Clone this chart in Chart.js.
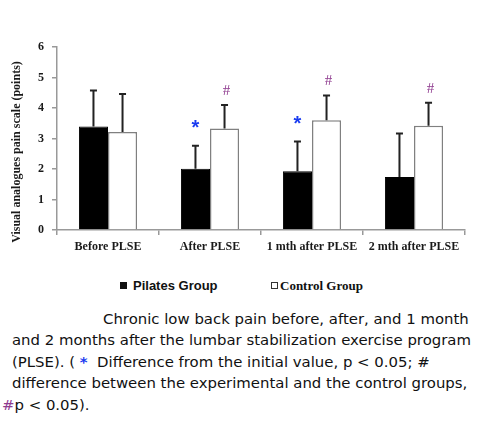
<!DOCTYPE html>
<html>
<head>
<meta charset="utf-8">
<script src="https://cdn.jsdelivr.net/npm/chart.js@4.4.1/dist/chart.umd.min.js"></script>
<style>
  html, body { margin: 0; padding: 0; background: #fff; }
  body { width: 504px; height: 427px; position: relative; overflow: hidden; }
  #wrap { position: absolute; left: 0; top: 0; width: 504px; height: 262px; }
  .legend { position: absolute; top: 277px; font-weight: bold; font-size: 13px; color: #111; line-height: 18px; }
  #leg1 { left: 120px; font-family: "Liberation Sans", Arial, sans-serif; }
  #leg2 { left: 271px; font-family: "Liberation Serif", "Times New Roman", serif; }
  .sq { display: inline-block; width: 7px; height: 7px; vertical-align: 1px; box-sizing: border-box; }
  #leg1 .sq { background: #111; margin-right: 6px; }
  #leg2 .sq { border: 1px solid #333; background: #fff; margin-right: 2px; }
  #caption { position: absolute; left: 12px; top: 309px; width: 470px; font-family: "DejaVu Sans", Verdana, sans-serif;
    font-size: 14.9px; line-height: 21.4px; color: #111; white-space: nowrap; }
  .star { color: #1a3cf0; font-weight: bold; }
  .hash { color: #8e3a8e; }
</style>
</head>
<body>
<div id="wrap"><canvas id="myChart"></canvas></div>
<div class="legend" id="leg1"><span class="sq"></span>Pilates Group</div>
<div class="legend" id="leg2"><span class="sq"></span>Control Group</div>
<div id="caption">
  <div style="padding-left:91px">Chronic low back pain before, after, and 1 month</div>
  <div>and 2 months after the lumbar stabilization exercise program</div>
  <div>(PLSE). ( <span class="star">*</span>&nbsp; Difference from the initial value, p &lt; 0.05; #</div>
  <div>difference between the experimental and the control groups,</div>
  <div style="margin-left:-10px"><span class="hash">#</span>p &lt; 0.05).</div>
</div>
<script>
// data
const categories = ['Before PLSE', 'After PLSE', '1 mth after PLSE', '2 mth after PLSE'];
const pilates = [3.39, 2.01, 1.93, 1.74];
const pilatesSD = [1.18, 0.75, 0.97, 1.42];
const control = [3.21, 3.33, 3.60, 3.42];
const controlSD = [1.25, 0.77, 0.81, 0.75];
const starMarks = [false, true, true, false];   // diff from initial value (pilates)
const hashMarks = [false, true, true, true];    // diff between groups (control)

const serifBold = { family: '"Liberation Serif", "Times New Roman", serif', weight: 'bold', size: 12 };

// error bars + significance marks
const extras = {
  id: 'extras',
  afterDatasetsDraw(chart) {
    const ctx = chart.ctx;
    const y = chart.scales.y;
    const sds = [pilatesSD, controlSD];
    ctx.save();
    chart.data.datasets.forEach((ds, di) => {
      const meta = chart.getDatasetMeta(di);
      meta.data.forEach((bar, i) => {
        const top = y.getPixelForValue(ds.data[i] + sds[di][i]);
        ctx.strokeStyle = '#222';
        ctx.lineWidth = 2;
        ctx.beginPath();
        ctx.moveTo(bar.x, bar.y);
        ctx.lineTo(bar.x, top);
        ctx.moveTo(bar.x - 3.5, top);
        ctx.lineTo(bar.x + 3.5, top);
        ctx.stroke();
        ctx.textAlign = 'center';
        ctx.textBaseline = 'middle';
        if (di === 0 && starMarks[i]) {
          ctx.fillStyle = '#1a3cf0';
          ctx.font = 'bold 20px "Liberation Sans", Arial, sans-serif';
          ctx.fillText('*', bar.x, top - 17);
        }
        if (di === 1 && hashMarks[i]) {
          ctx.fillStyle = '#8e3a8e';
          ctx.font = '15px "Liberation Serif", serif';
          ctx.fillText('#', bar.x + 2, top - 14);
        }
      });
    });
    // y axis title
    ctx.translate(17, 152);
    ctx.rotate(-Math.PI / 2);
    ctx.fillStyle = '#1a1a1a';
    ctx.font = 'bold 12px "Liberation Serif", "Times New Roman", serif';
    ctx.fillText('Visual analogues pain scale (points)', 0, 0);
    ctx.restore();
  }
};

const ctx = document.getElementById('myChart');

new Chart(ctx, {
  type: 'bar',
  data: {
    labels: categories,
    datasets: [{
      label: 'Pilates Group',
      data: pilates,
      backgroundColor: '#000',
      borderColor: '#000',
      borderWidth: 1,
      barPercentage: 1,
      categoryPercentage: 0.57
    }, {
      label: 'Control Group',
      data: control,
      backgroundColor: '#fff',
      borderColor: '#808080',
      borderWidth: 1.5,
      barPercentage: 1,
      categoryPercentage: 0.57
    }]
  },
  options: {
    responsive: true,
    maintainAspectRatio: false,
    animation: false,
    layout: { padding: { left: 0, right: 39, top: 47, bottom: 0 } },
    plugins: {
      legend: { display: false },
      tooltip: { enabled: false }
    },
    scales: {
      x: {
        afterFit(s) { s.height = 32; },
        grid: { drawOnChartArea: false, tickLength: 5, color: '#999', lineWidth: 1.5 },
        border: { color: '#999', width: 1.5 },
        ticks: { color: '#1a1a1a', font: serifBold, padding: 5, maxRotation: 0 }
      },
      y: {
        min: 0,
        max: 6,
        afterFit(s) { s.width = 57; },
        grid: { drawOnChartArea: false, tickLength: 5, color: '#999', lineWidth: 1.5 },
        border: { color: '#999', width: 1.5 },
        ticks: { stepSize: 1, color: '#1a1a1a', font: serifBold, padding: 8 }
      }
    }
  },
  plugins: [extras]
});
</script>
</body>
</html>
